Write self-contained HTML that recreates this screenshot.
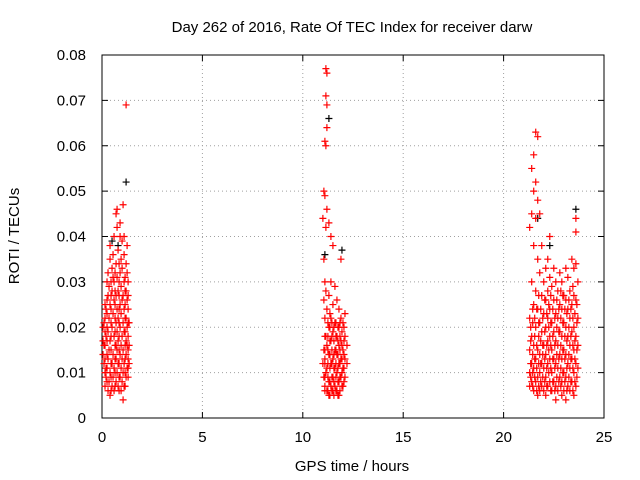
<!DOCTYPE html>
<html><head><meta charset="utf-8"><style>
body{margin:0;background:#fff;}
svg{display:block;font-family:"Liberation Sans",sans-serif;}
</style></head><body>
<svg id="chart" width="640" height="480" viewBox="0 0 640 480" xmlns="http://www.w3.org/2000/svg">
<rect width="640" height="480" fill="#fff"/>
<text x="352" y="32" font-size="15" text-anchor="middle">Day 262 of 2016, Rate Of TEC Index for receiver darw</text>
<g id="grid"></g>
<g id="axes"></g>
<g id="marks"></g>
<text x="352" y="471" font-size="15" text-anchor="middle">GPS time / hours</text>
<text x="0" y="0" font-size="15" text-anchor="middle" transform="translate(19,236) rotate(-90)">ROTI / TECUs</text>
</svg>
<script>
const xTicks = [0,5,10,15,20,25];
const yTicks = [0,0.01,0.02,0.03,0.04,0.05,0.06,0.07,0.08];
const yTickLabels = ["0","0.01","0.02","0.03","0.04","0.05","0.06","0.07","0.08"];
const morning = [[0.05,[0.017,0.02,0.014]],[0.1,[0.012,0.016,0.021]],[0.2,[0.011,0.018,0.024,0.009]],[0.3,[0.006,0.013,0.019,0.027,0.032]],[0.35,[0.008,0.015,0.022,0.029]],[0.4,[0.005,0.01,0.017,0.025,0.035,0.038]],[0.5,[0.007,0.012,0.02,0.028,0.033]],[0.55,[0.009,0.014,0.023,0.031,0.036]],[0.6,[0.006,0.011,0.018,0.026,0.03,0.04]],[0.7,[0.008,0.013,0.016,0.021,0.027,0.034,0.045]],[0.75,[0.01,0.015,0.019,0.024,0.031,0.042,0.046]],[0.8,[0.007,0.012,0.017,0.022,0.028,0.037]],[0.9,[0.009,0.014,0.02,0.025,0.032,0.04,0.043]],[0.95,[0.006,0.011,0.016,0.023,0.029,0.035]],[1.0,[0.008,0.013,0.018,0.026,0.033,0.039]],[1.05,[0.004,0.01,0.015,0.021,0.027,0.047]],[1.1,[0.007,0.012,0.019,0.024,0.03,0.036,0.04]],[1.2,[0.009,0.014,0.017,0.022,0.028,0.034,0.069]],[1.25,[0.011,0.016,0.02,0.026,0.032,0.038]],[1.3,[0.013,0.018,0.024,0.03]],[1.35,[0.012,0.016,0.021]]];
const morningCore = [[0.15,[0.007,0.01,0.013,0.016,0.019,0.022,0.025]],[0.25,[0.008,0.011,0.014,0.017,0.02,0.023,0.026,0.03]],[0.45,[0.006,0.009,0.012,0.015,0.018,0.021,0.024,0.027,0.03]],[0.65,[0.007,0.01,0.013,0.016,0.019,0.022,0.025,0.028,0.032]],[0.85,[0.006,0.009,0.012,0.015,0.018,0.021,0.024,0.027,0.03,0.034]],[1.15,[0.007,0.01,0.013,0.016,0.019,0.022,0.025,0.028,0.031]],[1.3,[0.009,0.011,0.015,0.021,0.027]]];
const noon = [[11.0,[0.044,0.012]],[11.05,[0.05,0.035,0.026,0.015,0.009]],[11.1,[0.061,0.049,0.03,0.022,0.013,0.007]],[11.15,[0.077,0.071,0.06,0.042,0.028,0.018,0.01]],[11.2,[0.076,0.069,0.064,0.046,0.024,0.016,0.011,0.006]],[11.3,[0.043,0.027,0.02,0.014,0.008,0.005]],[11.4,[0.04,0.03,0.022,0.017,0.012,0.007]],[11.5,[0.038,0.025,0.019,0.013,0.009,0.006]],[11.6,[0.029,0.021,0.015,0.011,0.007]],[11.7,[0.026,0.018,0.014,0.01,0.006]],[11.8,[0.024,0.02,0.016,0.012,0.008,0.005]],[11.9,[0.035,0.022,0.017,0.013,0.009]],[12.0,[0.021,0.015,0.011,0.007]],[12.1,[0.023,0.018,0.013,0.009]],[12.2,[0.016,0.012]]];
const noonCore = [[11.1,[0.006,0.009,0.012,0.015,0.018]],[11.25,[0.006,0.009,0.012,0.015,0.018,0.021]],[11.35,[0.005,0.008,0.011,0.014,0.017,0.02,0.023]],[11.45,[0.006,0.009,0.012,0.015,0.018,0.021]],[11.55,[0.005,0.008,0.011,0.014,0.017,0.02]],[11.65,[0.006,0.009,0.012,0.015,0.018,0.021]],[11.75,[0.005,0.008,0.011,0.014,0.017,0.02]],[11.85,[0.006,0.009,0.012,0.015,0.018,0.021]],[11.95,[0.007,0.01,0.013,0.016,0.019]],[12.05,[0.008,0.011,0.014,0.017,0.02]]];
const evening = [[21.3,[0.042,0.022,0.015,0.01,0.007]],[21.4,[0.055,0.045,0.03,0.018,0.012,0.008]],[21.5,[0.058,0.05,0.038,0.025,0.016,0.011,0.006]],[21.6,[0.063,0.052,0.044,0.028,0.02,0.013,0.008]],[21.7,[0.062,0.048,0.035,0.024,0.015,0.009,0.005]],[21.8,[0.045,0.032,0.021,0.014,0.01,0.006]],[21.9,[0.038,0.027,0.019,0.012,0.007]],[22.0,[0.03,0.023,0.016,0.011,0.006]],[22.1,[0.033,0.026,0.02,0.014,0.009,0.005]],[22.2,[0.035,0.028,0.022,0.017,0.012,0.007]],[22.3,[0.04,0.031,0.024,0.018,0.013,0.008]],[22.4,[0.029,0.021,0.015,0.01,0.006]],[22.5,[0.033,0.026,0.019,0.013,0.008]],[22.6,[0.03,0.023,0.017,0.012,0.007,0.004]],[22.7,[0.028,0.022,0.016,0.011,0.006]],[22.8,[0.032,0.025,0.019,0.014,0.009]],[22.9,[0.03,0.024,0.018,0.013,0.008,0.005]],[23.0,[0.027,0.021,0.015,0.01,0.006]],[23.1,[0.033,0.026,0.02,0.014,0.009,0.004]],[23.2,[0.031,0.024,0.018,0.012,0.007]],[23.3,[0.028,0.022,0.016,0.011,0.006]],[23.4,[0.035,0.025,0.019,0.013,0.008]],[23.5,[0.033,0.027,0.02,0.015,0.01,0.005]],[23.6,[0.044,0.041,0.034,0.026,0.018,0.012,0.007]],[23.7,[0.03,0.022,0.016,0.011]]];
const eveningCore = [[21.35,[0.009,0.012,0.017,0.02]],[21.45,[0.007,0.01,0.014,0.021,0.024]],[21.55,[0.009,0.013,0.018,0.022]],[21.65,[0.006,0.011,0.016,0.024]],[21.75,[0.007,0.012,0.018,0.021,0.027]],[21.85,[0.008,0.012,0.017,0.024]],[21.95,[0.009,0.014,0.016,0.022]],[22.05,[0.008,0.013,0.019,0.026]],[22.15,[0.007,0.011,0.016,0.023]],[22.25,[0.01,0.015,0.02,0.025]],[22.35,[0.006,0.011,0.016,0.021,0.027]],[22.45,[0.008,0.013,0.018,0.024]],[22.55,[0.006,0.011,0.016,0.022]],[22.65,[0.009,0.014,0.02,0.026]],[22.75,[0.008,0.013,0.019,0.024]],[22.85,[0.007,0.011,0.016,0.022,0.028]],[22.95,[0.01,0.015,0.021,0.027]],[23.05,[0.008,0.013,0.018,0.024]],[23.15,[0.006,0.011,0.017,0.023]],[23.25,[0.009,0.014,0.02,0.026]],[23.35,[0.008,0.013,0.018,0.024]],[23.45,[0.006,0.011,0.016,0.022,0.029]],[23.55,[0.008,0.013,0.017,0.023]],[23.65,[0.009,0.015,0.021,0.025]]];
const blackPts = [[0.5,[0.039]],[0.8,[0.038]],[1.2,[0.052]],[11.1,[0.036]],[11.3,[0.066]],[11.95,[0.037]],[21.7,[0.044]],[22.3,[0.038]],[23.6,[0.046]]];

const X0=102,X1=604,Y0=418,Y1=55;
const sx=v=>X0+(v-0)/(25-0)*(X1-X0);
const sy=v=>Y0-(v-0)/(0.08-0)*(Y0-Y1);
const NS="http://www.w3.org/2000/svg";
function mk(tag,attrs,parent){const e=document.createElementNS(NS,tag);for(const k in attrs)e.setAttribute(k,attrs[k]);parent.appendChild(e);return e;}
const grid=document.getElementById('grid'),axes=document.getElementById('axes'),marks=document.getElementById('marks');
xTicks.forEach(t=>{const x=sx(t);
 if(t>0&&t<25){const g=mk('line',{x1:x,x2:x,y1:Y0,y2:Y1,stroke:'#a0a0a0','stroke-dasharray':'1,3'},grid);}
 mk('line',{x1:x,x2:x,y1:Y0,y2:Y0-6,stroke:'#000'},axes);mk('line',{x1:x,x2:x,y1:Y1,y2:Y1+6,stroke:'#000'},axes);
 const l=mk('text',{x:x,y:Y0+24,'font-size':15,'text-anchor':'middle'},axes);l.textContent=t;
 });
yTicks.forEach((t,i)=>{const y=sy(t);
 if(i>0&&i<yTicks.length-1){const g=mk('line',{x1:X0,x2:X1,y1:y,y2:y,stroke:'#a0a0a0','stroke-dasharray':'1,3'},grid);}
 mk('line',{x1:X0,x2:X0+6,y1:y,y2:y,stroke:'#000'},axes);mk('line',{x1:X1,x2:X1-6,y1:y,y2:y,stroke:'#000'},axes);
 const l=mk('text',{x:X0-16,y:y+5,'font-size':15,'text-anchor':'end'},axes);l.textContent=yTickLabels[i];
 });
const fr=mk('rect',{x:X0,y:Y1,width:X1-X0,height:Y0-Y1,fill:'none',stroke:'#000'},axes);


function plot(arr,color,name){arr.forEach(([t,vals])=>vals.forEach(v=>{const x=sx(t),y=sy(v);
 const p=mk('path',{d:`M${x-3.5},${y}h7M${x},${y-3.5}v7`,stroke:color,'stroke-width':1.2,fill:'none'},marks);
 
 }));}
plot(blackPts,'#000','black-point');
plot(morning,'#f00','roti-point');
plot(morningCore,'#f00','roti-point');
plot(noon,'#f00','roti-point');
plot(noonCore,'#f00','roti-point');
plot(evening,'#f00','roti-point');
plot(eveningCore,'#f00','roti-point');
</script>
</body></html>
